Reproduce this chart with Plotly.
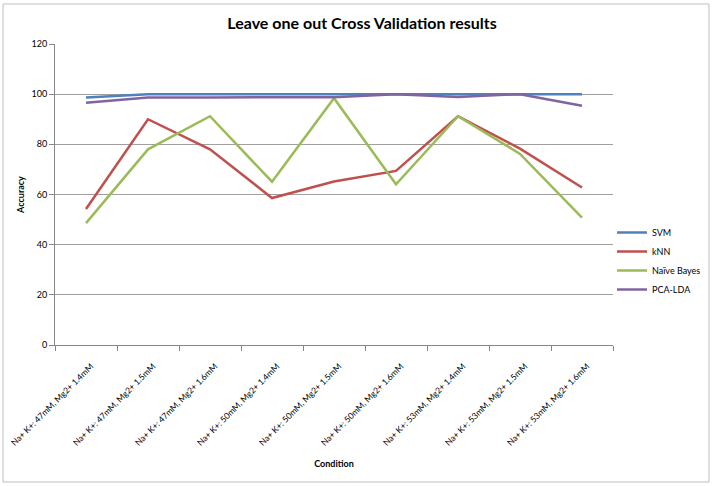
import plotly.graph_objects as go

conditions = [
    "Na+ K+: 47mM, Mg2+ 1.4mM",
    "Na+ K+: 47mM, Mg2+ 1.5mM",
    "Na+ K+: 47mM, Mg2+ 1.6mM",
    "Na+ K+: 50mM, Mg2+ 1.4mM",
    "Na+ K+: 50mM, Mg2+ 1.5mM",
    "Na+ K+: 50mM, Mg2+ 1.6mM",
    "Na+ K+: 53mM, Mg2+ 1.4mM",
    "Na+ K+: 53mM, Mg2+ 1.5mM",
    "Na+ K+: 53mM, Mg2+ 1.6mM",
]
svm = [98.7, 100, 100, 100, 100, 100, 100, 100, 100]
knn = [54.2, 90.0, 78.0, 58.6, 65.2, 69.4, 91.2, 78.3, 62.8]
naive_bayes = [48.6, 78.0, 91.2, 65.1, 98.4, 64.1, 91.2, 76.2, 50.8]
pca_lda = [96.6, 98.7, 98.7, 98.7, 98.8, 100, 98.9, 100, 95.4]

series = [
    ("SVM", svm, "#4F81BD"),
    ("kNN", knn, "#C0504D"),
    ("Naïve Bayes", naive_bayes, "#9BBB59"),
    ("PCA-LDA", pca_lda, "#8064A2"),
]

fig = go.Figure()
for name, vals, col in series:
    fig.add_trace(go.Scatter(x=conditions, y=vals, mode="lines", name=name,
                             line=dict(color=col, width=2.5)))

W, H = 713, 486
L, R, T, B = 55, 613, 44, 345
pw, ph = R - L, B - T

def px(x):
    return (x - L) / pw

def py(y):
    return (B - y) / ph

fig.update_layout(
    width=W, height=H,
    margin=dict(l=L, r=W - R, t=T, b=H - B, autoexpand=False),
    paper_bgcolor="white", plot_bgcolor="white",
    font=dict(family="Lato, Liberation Sans, sans-serif", size=9, color="#000000"),
    title=dict(text="<b>Leave one out Cross Validation results</b>",
               x=362 / W, xref="container", y=1 - 23 / H, yref="container",
               xanchor="center", yanchor="middle",
               font=dict(size=16, color="#000000")),
    showlegend=True,
    legend=dict(x=px(612), y=py(218), xanchor="left", yanchor="top",
                bgcolor="rgba(0,0,0,0)", font=dict(size=9),
                tracegroupgap=6, itemwidth=30),
    xaxis=dict(
        type="category", tickangle=-45, showgrid=False, automargin=False,
        showline=True, linecolor="#868686", linewidth=1,
        ticks="outside", tickson="boundaries", ticklen=5, tickcolor="#868686",
        tickfont=dict(size=8.5), ticklabelstandoff=12, ticklabelshift=5,
        title=dict(text="<b>Condition</b>", font=dict(size=9), standoff=13),
        range=[-0.5, len(conditions) - 0.5],
    ),
    yaxis=dict(
        range=[0, 120], dtick=20, tick0=0, automargin=False,
        showgrid=True, gridcolor="#A0A0A0", gridwidth=1,
        showline=True, linecolor="#868686", linewidth=1,
        ticks="outside", ticklen=5, tickcolor="#868686",
        tickfont=dict(size=9),
        title=dict(text="<b>Accuracy</b>", font=dict(size=9), standoff=5),
        zeroline=False,
    ),
    shapes=[dict(type="rect", xref="paper", yref="paper",
                 x0=px(3), x1=px(709), y0=py(482), y1=py(4),
                 line=dict(color="#BFBFBF", width=1), fillcolor="rgba(0,0,0,0)",
                 layer="below")],
)

fig.write_html("out.html", config={"displayModeBar": False},
               post_script="document.body.style.margin='0';")
